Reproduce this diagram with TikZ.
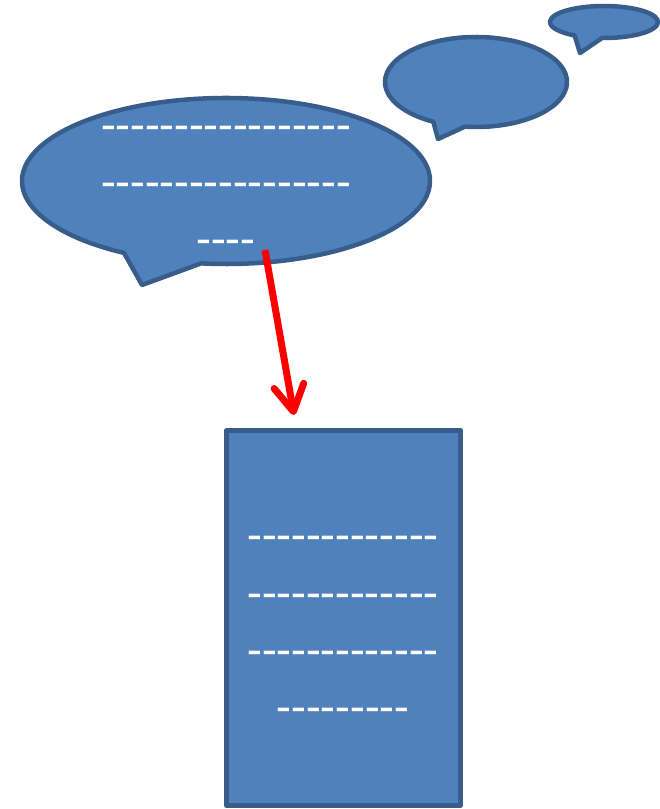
\documentclass[tikz,border=0pt]{standalone}
\usepackage{fontspec}
\newfontfamily\dashfont{Carlito}
\usetikzlibrary{arrows.meta,calc}
\definecolor{bfill}{HTML}{4F81BD}
\definecolor{bline}{HTML}{385D8A}
\tikzset{
  bubble/.style={fill=bfill, draw=bline, line width=4.5pt, line join=round},
  dashtext/.style={text=white, font=\dashfont\fontsize{48}{57}\selectfont, anchor=base, inner sep=0pt},
  redarrow/.style={draw=red, line width=7pt, -{Straight Barb[length=26pt, width=30pt, line cap=round, line join=round]}}
}
\newcommand\dashrow[1]{\foreach\k in {1,...,#1}{-\kern0pt}}
\begin{document}
\begin{tikzpicture}[x=1pt,y=1pt]
\useasboundingbox (0,0) rectangle (659,809);
% big bubble
\coordinate (bigc) at (226,628);
\draw[bubble] ($(bigc)+(240:204 and 83)$) -- (142,524) -- ($(bigc)+(263:204 and 83)$)
  arc[start angle=263, end angle=600, x radius=204, y radius=83] -- cycle;
% medium bubble
\coordinate (medc) at (476,727);
\draw[bubble] ($(medc)+(242:91 and 45)$) -- (438,670) -- ($(medc)+(263:91 and 45)$)
  arc[start angle=263, end angle=602, x radius=91, y radius=45] -- cycle;
% small bubble
\coordinate (smc) at (604,787);
\draw[bubble] ($(smc)+(237:54 and 16)$) -- (580,756) -- ($(smc)+(268:54 and 16)$)
  arc[start angle=268, end angle=597, x radius=54, y radius=16] -- cycle;
% bubble text
\node[dashtext] (b1) at (226,667) {\dashrow{17}};
\node[dashtext] (b2) at (226,610) {\dashrow{17}};
\node[dashtext] (b3) at (226,553) {\dashrow{4}};
% box
\node[bubble, minimum width=234pt, minimum height=375pt, anchor=north west, inner sep=0pt, outer sep=0pt] (box) at (226.5,378.5) {};
\node[dashtext] (r1) at (343,257) {\dashrow{13}};
\node[dashtext] (r2) at (343,199) {\dashrow{13}};
\node[dashtext] (r3) at (343,142) {\dashrow{13}};
\node[dashtext] (r4) at (343,85) {\dashrow{9}};
% arrow
\coordinate (astart) at (265,559);
\coordinate (aend) at (294,394);
\draw[redarrow] (astart) -- (aend);
\end{tikzpicture}
\end{document}
